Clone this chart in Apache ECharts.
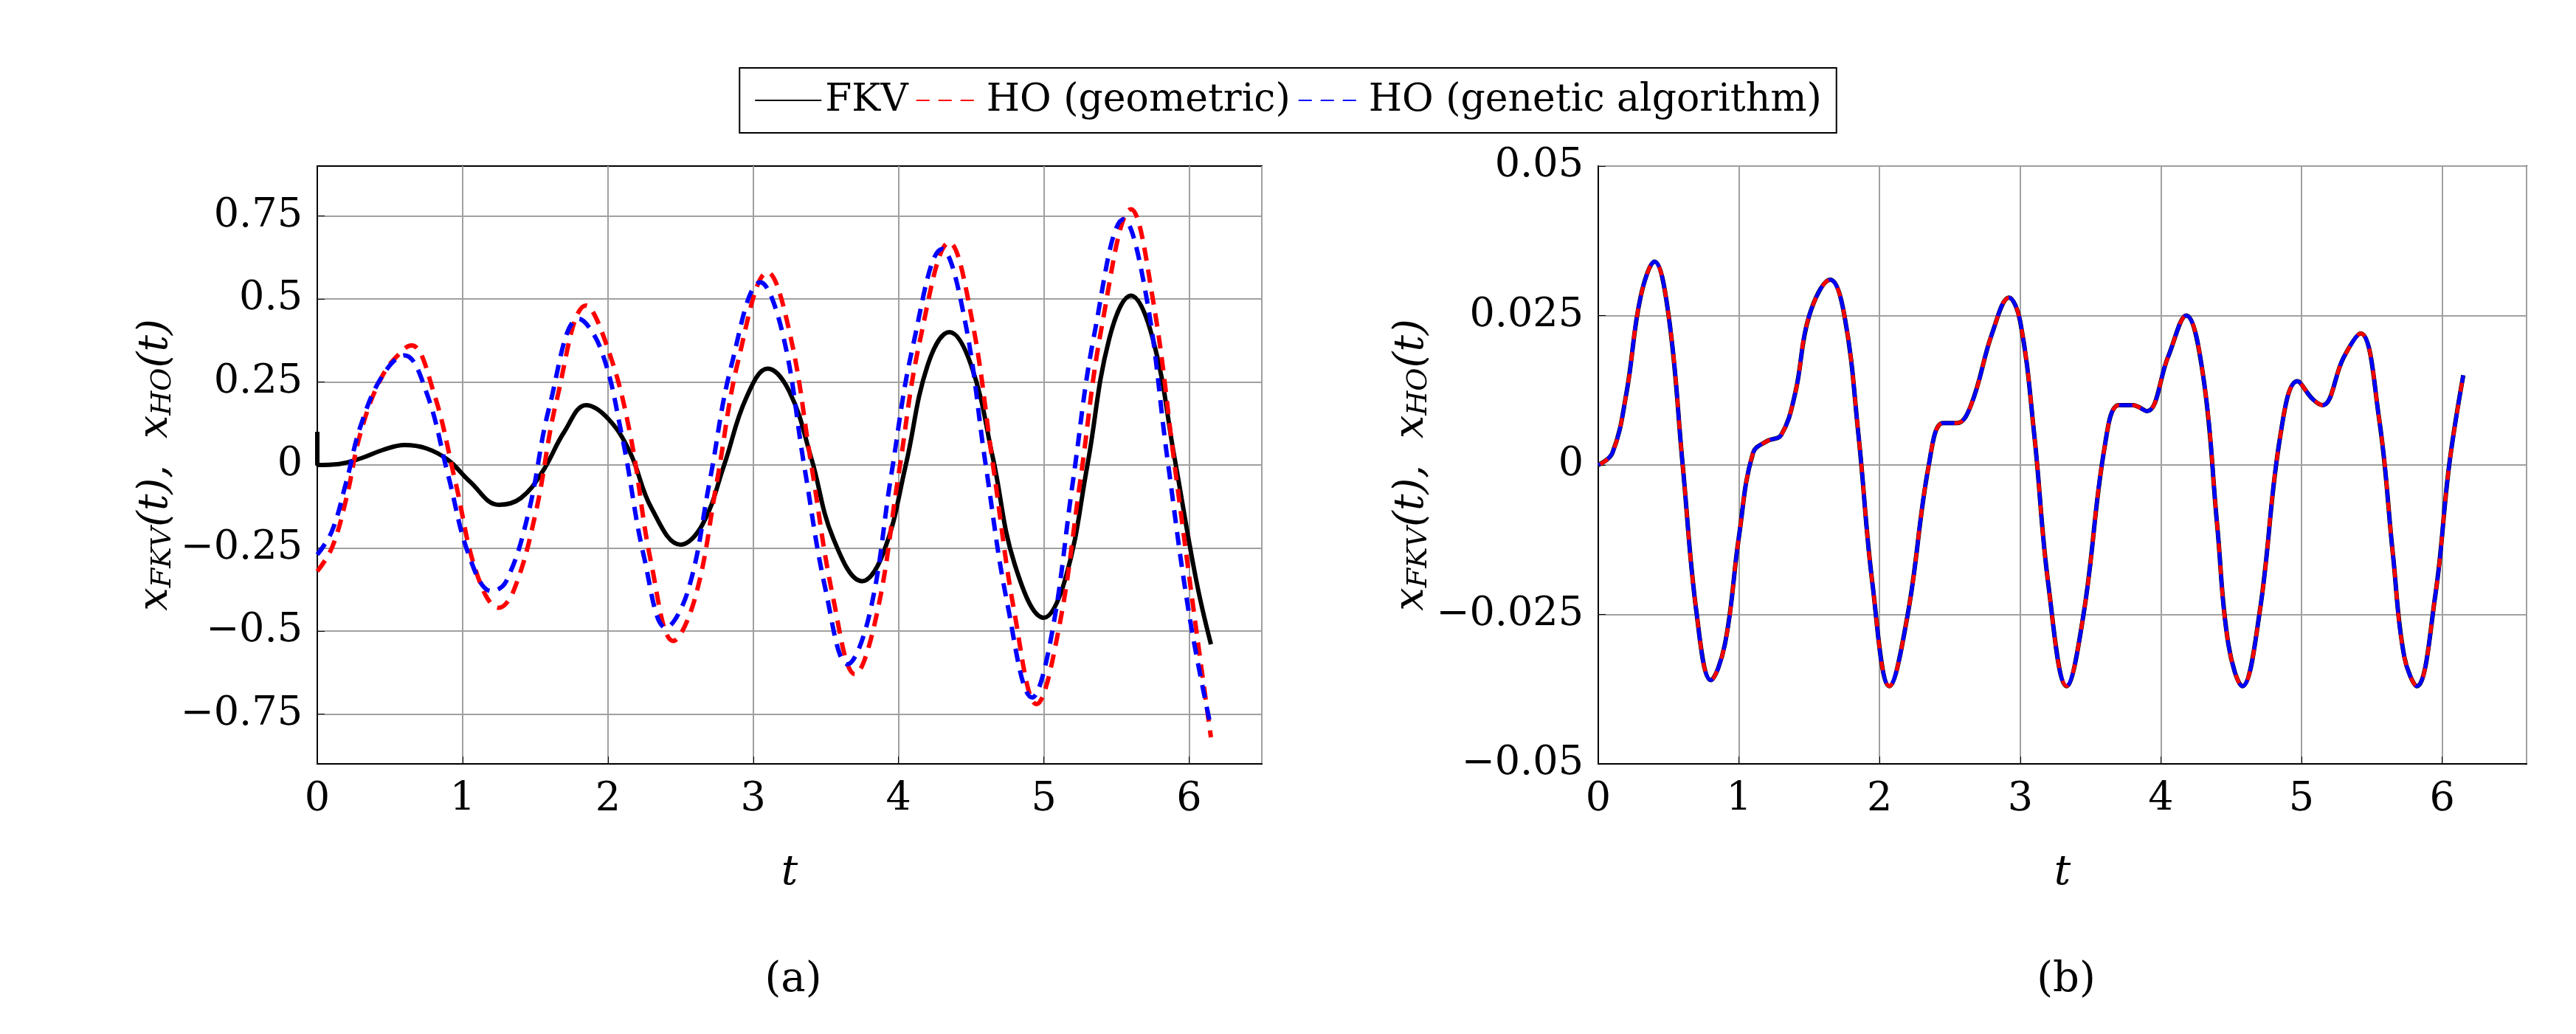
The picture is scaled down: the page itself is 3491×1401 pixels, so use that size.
<!DOCTYPE html>
<html><head><meta charset="utf-8">
<script src="https://cdn.jsdelivr.net/npm/echarts@6/dist/echarts.min.js"></script>
<style>html,body{margin:0;background:#fff}#c{width:3491px;height:1401px}</style></head>
<body><div id="c"></div>
<script>
const seriesNames = ['FKV', 'HO (geometric)', 'HO (genetic algorithm)'];
const leftFKV = [[0,0.1],[0,0],[0.15,0.003],[0.3,0.02],[0.45,0.045],[0.6,0.06],[0.75,0.05],[0.9,0.015],[1.05,-0.05],[1.25,-0.12],[1.4,-0.1],[1.55,-0.02],[1.7,0.1],[1.85,0.18],[2.0,0.14],[2.15,0.04],[2.3,-0.13],[2.5,-0.24],[2.65,-0.18],[2.8,0.0],[2.95,0.2],[3.1,0.29],[3.25,0.22],[3.4,0.02],[3.55,-0.22],[3.75,-0.35],[3.9,-0.26],[4.05,0.0],[4.2,0.3],[4.35,0.40],[4.5,0.3],[4.65,0.02],[4.8,-0.3],[5.0,-0.46],[5.15,-0.34],[5.3,0.0],[5.45,0.38],[5.6,0.51],[5.75,0.38],[5.9,0.02],[6.05,-0.35],[6.15,-0.54]];
const leftGeo = [[0,-0.32],[0.1,-0.25],[0.2,-0.1],[0.3,0.1],[0.45,0.27],[0.6,0.35],[0.65,0.36],[0.8,0.22],[0.95,-0.05],[1.1,-0.33],[1.25,-0.43],[1.35,-0.38],[1.5,-0.15],[1.65,0.2],[1.85,0.48],[2.0,0.35],[2.15,0.1],[2.3,-0.3],[2.45,-0.53],[2.6,-0.4],[2.75,-0.05],[2.9,0.32],[3.1,0.58],[3.25,0.4],[3.4,0.0],[3.55,-0.4],[3.7,-0.63],[3.85,-0.45],[4.0,-0.03],[4.15,0.38],[4.35,0.67],[4.5,0.45],[4.65,0.0],[4.8,-0.45],[4.95,-0.72],[5.1,-0.5],[5.25,-0.05],[5.4,0.42],[5.6,0.77],[5.75,0.5],[5.9,0.0],[6.05,-0.5],[6.15,-0.82]];
const leftGA = [[0,-0.27],[0.1,-0.2],[0.2,-0.05],[0.3,0.12],[0.45,0.27],[0.6,0.33],[0.75,0.22],[0.9,-0.03],[1.05,-0.28],[1.2,-0.38],[1.3,-0.35],[1.45,-0.15],[1.6,0.18],[1.8,0.44],[1.95,0.35],[2.1,0.08],[2.25,-0.28],[2.4,-0.49],[2.55,-0.38],[2.7,-0.05],[2.85,0.3],[3.05,0.55],[3.2,0.4],[3.35,0.0],[3.5,-0.38],[3.65,-0.60],[3.8,-0.45],[3.95,-0.03],[4.1,0.36],[4.3,0.65],[4.45,0.45],[4.6,0.0],[4.75,-0.42],[4.92,-0.70],[5.05,-0.52],[5.2,-0.05],[5.35,0.40],[5.55,0.74],[5.7,0.52],[5.85,0.02],[6.0,-0.45],[6.15,-0.79]];
const rightData = [[0,0],[0.1,0.002],[0.2,0.012],[0.3,0.028],[0.4,0.034],[0.5,0.025],[0.6,0.0],[0.7,-0.025],[0.8,-0.036],[0.9,-0.03],[1.0,-0.012],[1.1,0.002],[1.2,0.004],[1.3,0.005],[1.4,0.012],[1.5,0.025],[1.65,0.031],[1.75,0.025],[1.85,0.005],[1.95,-0.02],[2.07,-0.037],[2.2,-0.025],[2.35,0.0],[2.45,0.007],[2.55,0.007],[2.65,0.01],[2.8,0.022],[2.92,0.028],[3.0,0.024],[3.1,0.005],[3.2,-0.02],[3.33,-0.037],[3.45,-0.025],[3.6,0.003],[3.7,0.010],[3.8,0.010],[3.9,0.009],[4.05,0.018],[4.18,0.025],[4.3,0.015],[4.4,-0.01],[4.48,-0.03],[4.58,-0.037],[4.7,-0.025],[4.85,0.005],[4.97,0.014],[5.08,0.011],[5.15,0.010],[5.3,0.018],[5.42,0.022],[5.55,0.008],[5.65,-0.015],[5.73,-0.032],[5.82,-0.037],[5.95,-0.022],[6.05,0.0],[6.15,0.015]];
const leftYTicks = [-0.75,-0.5,-0.25,0,0.25,0.5,0.75];
const rightYTicks = [-0.05,-0.025,0,0.025,0.05];

const F = 'DejaVu Serif, Liberation Serif, serif';
const fmt = v => (v < 0 ? '\u2212' + (-v) : '' + v);
const yName = '{i|x}{s|FKV}{i|(t),  x}{s|HO}{i|(t)}';
const rich = { i:{fontFamily:F,fontStyle:'italic',fontSize:56,color:'#000'}, s:{fontFamily:F,fontStyle:'italic',fontSize:38,color:'#000',padding:[20,0,0,0]} };
const colors = ['#000000','#ff0000','#0000ff'];
function xa(idx, max){ return {type:'value',gridIndex:idx,min:0,max:max,interval:1,name:'t',nameLocation:'middle',nameGap:120,
  nameTextStyle:{fontFamily:F,fontStyle:'italic',fontSize:56,color:'#000'},
  axisLine:{onZero:false,lineStyle:{color:'#000',width:2}},axisTick:{inside:true,length:10,lineStyle:{color:'#000'}},
  axisLabel:{fontFamily:F,fontSize:54,color:'#000',margin:22,showMaxLabel:false},
  splitLine:{show:true,lineStyle:{color:'#a0a0a0',width:2}}}; }
function ya(idx, min, max, ticks, gap){ return {type:'value',gridIndex:idx,min:min,max:max,name:yName,nameLocation:'middle',nameGap:gap,nameRotate:90,
  nameTextStyle:{rich:rich},
  axisLine:{onZero:false,lineStyle:{color:'#000',width:2}},axisTick:{inside:true,length:10,customValues:ticks,lineStyle:{color:'#000'}},
  axisLabel:{fontFamily:F,fontSize:54,color:'#000',margin:20,customValues:ticks,formatter:fmt},
  splitLine:{show:true,lineStyle:{color:'#a0a0a0',width:2}}}; }
function line(name, data, xi, color, dashed, offset, w){ return {name:name,type:'line',xAxisIndex:xi,yAxisIndex:xi,data:data,smooth:0.4,showSymbol:false,
  lineStyle:{color:color,width:w||6,type:dashed?[18,12]:'solid',dashOffset:offset||0},itemStyle:{color:color}}; }

const chart = echarts.init(document.getElementById('c'));
chart.setOption({
  animation:false,
  backgroundColor:'#fff',
  legend:{top:92,left:'center',data:seriesNames,itemWidth:90,itemHeight:20,itemGap:10,
    textStyle:{fontFamily:F,fontSize:52,color:'#000'},borderColor:'#000',borderWidth:2,padding:[18,20],
    itemStyle:{opacity:0}},
  grid:[{left:430,top:225,width:1280,height:810,show:true,borderColor:'#000',borderWidth:2},
        {left:2166,top:225,width:1258,height:810,show:true,borderColor:'#000',borderWidth:2}],
  xAxis:[xa(0,6.5),xa(1,6.6)],
  yAxis:[ya(0,-0.9,0.9,leftYTicks,165),ya(1,-0.05,0.05,rightYTicks,205)],
  title:[{text:'(a)',left:1070,top:1295,textAlign:'center',textStyle:{fontFamily:F,fontSize:56,fontWeight:'normal',color:'#000'}},
         {text:'(b)',left:2795,top:1295,textAlign:'center',textStyle:{fontFamily:F,fontSize:56,fontWeight:'normal',color:'#000'}}],
  series:[
    line(seriesNames[0],leftFKV,0,colors[0],false),
    line(seriesNames[1],leftGeo,0,colors[1],true),
    line(seriesNames[2],leftGA,0,colors[2],true),
    line(seriesNames[0],rightData,1,colors[0],false,0,6),
    line(seriesNames[1],rightData,1,colors[1],true,0,5),
    line(seriesNames[2],rightData,1,colors[2],true,15,5)
  ]
});
</script></body></html>
